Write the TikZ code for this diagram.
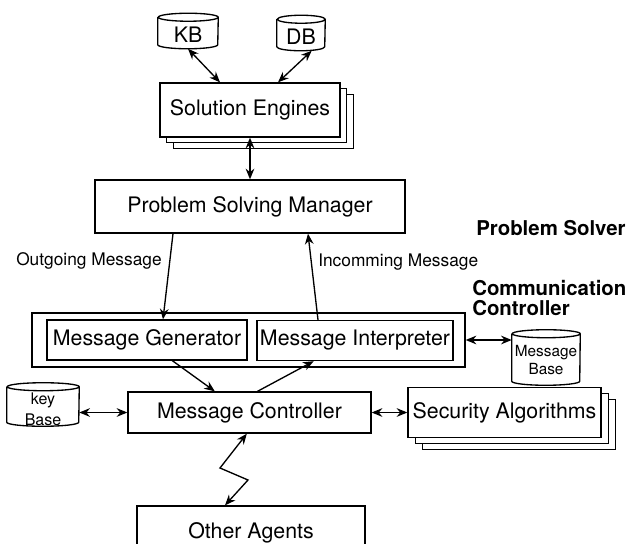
\documentclass[tikz,border=0pt]{standalone}
\usepackage{fontspec}
\setmainfont{TeX Gyre Heros}
\usetikzlibrary{arrows.meta,shadows,calc}
\tikzset{
  box/.style={draw, line width=1pt, fill=white, rectangle, inner sep=2pt, font=\fontsize{16}{18}\selectfont},
  stackbox/.style={box,
    copy shadow={shadow xshift=#1*2, shadow yshift=-#1*1.7, draw, line width=1pt, fill=white},
    copy shadow={shadow xshift=#1, shadow yshift=-#1*0.85, draw, line width=1pt, fill=white}},
  cylt/.style={rectangle, inner sep=0pt},
  lbl/.style={inner sep=0pt, font=\fontsize{13}{15}\selectfont},
  bigbold/.style={inner sep=0pt, align=left, font=\fontsize{15.3}{15.5}\selectfont\bfseries},
  conn/.style={line width=1pt, {Stealth[length=8pt,width=6.5pt]}-{Stealth[length=8pt,width=6.5pt]}},
  oneway/.style={line width=1pt, -{Stealth[length=8pt,width=6.5pt]}},
}
\newcommand{\cyl}[9]{% name, cx, cy, w, h, r, font, text, text shift
  \node[cylt, minimum width=#4, minimum height=#5,
        label={[font=#7, align=center, inner sep=0pt, yshift=#9]center:#8}] (#1) at (#2,#3) {};
  \draw[line width=1pt] ([yshift=-#6]#1.north west) -- ([yshift=#6]#1.south west)
    arc[start angle=180, end angle=360, x radius=0.5*#4, y radius=#6]
    -- ([yshift=-#6]#1.north east)
    arc[start angle=0, end angle=180, x radius=0.5*#4, y radius=#6]
    arc[start angle=180, end angle=360, x radius=0.5*#4, y radius=#6];
}
\begin{document}
\begin{tikzpicture}[x=0.75pt,y=-0.75pt]
\useasboundingbox (0,0) rectangle (632,543);
\clip (0,0) rectangle (632,543);

% cylinders
\cyl{kb}{188}{31}{45pt}{26.25pt}{3pt}{\fontsize{16}{18}\selectfont}{KB}{-2.5pt}
\cyl{db}{301}{33}{36pt}{26.25pt}{3pt}{\fontsize{16}{18}\selectfont}{DB}{-2.5pt}

% Solution engines
\node[stackbox=5pt, minimum width=135pt, minimum height=40.5pt] (se) at (250,110) {Solution Engines};

% Problem solving manager
\node[box, minimum width=232.5pt, minimum height=39.75pt] (psm) at (250,206.5) {Problem Solving Manager};

% Communication controller
\node[box, minimum width=324.75pt, minimum height=40.5pt] (cc) at (248.5,340) {};
\node[box, minimum width=150pt, minimum height=30pt] (mg) at (147,340) {Message Generator};
\node[box, minimum width=147pt, minimum height=30pt] (mi) at (355,340.5) {Message Interpreter};

\cyl{mb}{546}{357.5}{51pt}{41.25pt}{3pt}{\fontsize{11.5}{14}\selectfont}{Message\\Base}{-2pt}
\cyl{key}{43}{404.5}{54pt}{32.25pt}{3pt}{\fontsize{12}{15.5}\selectfont}{key\\Base}{-3.5pt}

% Message controller
\node[box, minimum width=182.25pt, minimum height=30.75pt] (mc) at (249.5,412.5) {Message Controller};

% Security algorithms
\node[stackbox=5.4pt, minimum width=144.75pt, minimum height=37.5pt] (sa) at (504.5,412.5) {Security Algorithms};

% Other agents
\node[box, minimum width=171pt, minimum height=40.5pt] (oa) at (251,533) {Other Agents};

% labels
\node[lbl, anchor=east] (outlbl) at (162,261) {Outgoing Message};
\node[lbl, anchor=west] (inlbl) at (318,262) {Incomming Message};
\node[bigbold, anchor=west] (pslbl) at (476,228) {Problem Solver};
\node[bigbold, anchor=west] (cclbl) at (472,298) {Communication\\Controller};

% connectors
\draw[conn] (kb.south) -- ([xshift=-22.5pt]se.north);
\draw[conn] ([xshift=8pt]db.south) -- ([xshift=21pt]se.north);
\draw[conn] (se.south) -- (psm.north);
\draw[oneway] ([xshift=-57.75pt]psm.south) -- ([xshift=12pt]mg.north);
\draw[oneway] ([xshift=-27.75pt]mi.north) -- ([xshift=43.5pt]psm.south);
\draw[conn] (cc.east) -- (cc.east -| mb.west);
\draw[oneway] ([xshift=19pt]mg.south) -- ([xshift=-26pt]mc.north);
\draw[oneway] ([xshift=6pt]mc.north) -- ([xshift=-31pt]mi.south);
\draw[conn] (key.east |- mc.west) -- (mc.west);
\draw[conn] (mc.east) -- (mc.east -| sa.west);
\coordinate (z1) at (220,468);
\coordinate (z2) at (248,480);
\draw[conn] ([xshift=-2pt]mc.south) -- (z1) -- (z2) -- ([xshift=-19.5pt]oa.north);
\end{tikzpicture}
\end{document}
